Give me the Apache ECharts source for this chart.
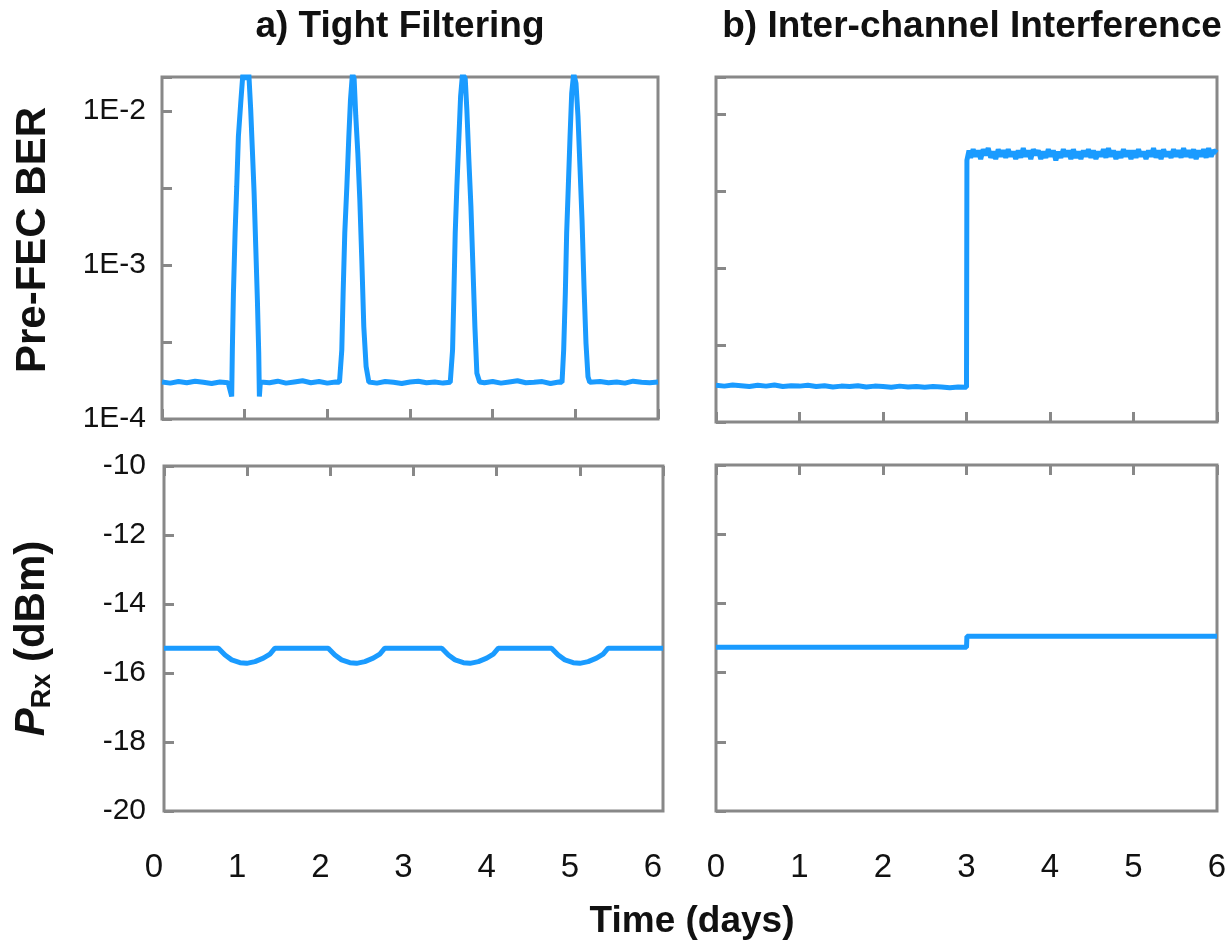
<!DOCTYPE html>
<html>
<head>
<meta charset="utf-8">
<script src="https://cdn.jsdelivr.net/npm/echarts@6/dist/echarts.min.js"></script>
<style>
  html, body { margin: 0; padding: 0; background: #fff; }
  #chart { width: 1232px; height: 950px; }
</style>
</head>
<body>
<div id="chart"></div>
<script>
// a) tight filtering: [day, pre-FEC BER]
const tfBer = [
  [0, 1.74e-4], [0.1, 1.71e-4], [0.2, 1.75e-4], [0.3, 1.72e-4], [0.4, 1.76e-4], [0.5, 1.73e-4],
  [0.6, 1.70e-4], [0.7, 1.74e-4], [0.8, 1.72e-4], [0.823, 1.75e-4],
  [0.843, 1.40e-4], [0.851, 2.81e-4], [0.864, 6.55e-4], [0.884, 1.61e-3], [0.904, 3.22e-3],
  [0.924, 6.81e-3], [0.952, 1.12e-2], [0.977, 1.70e-2], [1.0, 1.85e-2], [1.025, 1.60e-2],
  [1.05, 1.75e-2], [1.073, 1.02e-2], [1.093, 5.6e-3], [1.114, 2.95e-3], [1.134, 1.32e-3],
  [1.154, 5.9e-4], [1.17, 2.7e-4], [1.178, 1.40e-4], [1.19, 1.74e-4],
  [1.3, 1.72e-4], [1.4, 1.76e-4], [1.5, 1.71e-4], [1.6, 1.74e-4], [1.7, 1.77e-4], [1.8, 1.72e-4],
  [1.9, 1.75e-4], [2.0, 1.71e-4], [2.1, 1.74e-4], [2.147, 1.73e-4],
  [2.175, 2.81e-4], [2.191, 6.55e-4], [2.211, 1.61e-3], [2.236, 3.22e-3], [2.26, 6.81e-3],
  [2.28, 1.18e-2], [2.304, 1.75e-2], [2.324, 1.62e-2], [2.344, 9.3e-3], [2.369, 5.31e-3],
  [2.393, 2.64e-3], [2.417, 1.08e-3], [2.441, 3.98e-4], [2.469, 2.19e-4], [2.502, 1.74e-4],
  [2.6, 1.71e-4], [2.7, 1.75e-4], [2.8, 1.73e-4], [2.9, 1.70e-4], [3.0, 1.74e-4], [3.1, 1.76e-4],
  [3.2, 1.72e-4], [3.3, 1.74e-4], [3.4, 1.71e-4], [3.487, 1.73e-4],
  [3.515, 2.81e-4], [3.531, 6.55e-4], [3.547, 1.61e-3], [3.567, 3.22e-3], [3.592, 6.81e-3],
  [3.612, 1.24e-2], [3.636, 1.75e-2], [3.668, 1.62e-2], [3.688, 1.01e-2], [3.712, 4.81e-3],
  [3.737, 2.39e-3], [3.761, 9.75e-4], [3.785, 3.98e-4], [3.809, 1.98e-4], [3.842, 1.74e-4],
  [3.9, 1.72e-4], [4.0, 1.75e-4], [4.1, 1.71e-4], [4.2, 1.74e-4], [4.3, 1.77e-4], [4.4, 1.72e-4],
  [4.5, 1.73e-4], [4.6, 1.75e-4], [4.7, 1.70e-4], [4.8, 1.74e-4], [4.839, 1.73e-4],
  [4.859, 2.81e-4], [4.879, 6.55e-4], [4.895, 1.61e-3], [4.915, 3.22e-3], [4.936, 6.81e-3],
  [4.956, 1.30e-2], [4.98, 1.75e-2], [5.008, 1.51e-2], [5.032, 9.2e-3], [5.056, 4.35e-3],
  [5.081, 1.96e-3], [5.105, 7.2e-4], [5.129, 3.1e-4], [5.153, 1.88e-4], [5.174, 1.73e-4],
  [5.3, 1.75e-4], [5.4, 1.72e-4], [5.5, 1.74e-4], [5.6, 1.71e-4], [5.7, 1.76e-4], [5.8, 1.73e-4],
  [5.9, 1.72e-4], [6.0, 1.74e-4]
];

// b) inter-channel interference: [day, pre-FEC BER]
const iciBer = [
  [0, 1.73e-4], [0.1, 1.71e-4], [0.2, 1.74e-4], [0.3, 1.72e-4], [0.4, 1.70e-4], [0.5, 1.73e-4],
  [0.6, 1.71e-4], [0.7, 1.74e-4], [0.8, 1.70e-4], [0.9, 1.72e-4], [1.0, 1.71e-4], [1.1, 1.73e-4],
  [1.2, 1.70e-4], [1.3, 1.72e-4], [1.4, 1.69e-4], [1.5, 1.71e-4], [1.6, 1.70e-4], [1.7, 1.72e-4],
  [1.8, 1.69e-4], [1.9, 1.71e-4], [2.0, 1.70e-4], [2.1, 1.68e-4], [2.2, 1.71e-4], [2.3, 1.69e-4],
  [2.4, 1.70e-4], [2.5, 1.68e-4], [2.6, 1.70e-4], [2.7, 1.69e-4], [2.8, 1.67e-4], [2.9, 1.69e-4],
  [3.0, 1.68e-4],
  [3.005, 5.0e-3], [3.03, 5.8e-3],
  [3.05, 5.2e-3], [3.08, 5.9e-3], [3.11, 5.3e-3], [3.14, 5.8e-3], [3.17, 5.1e-3], [3.2, 5.9e-3],
  [3.23, 5.4e-3], [3.26, 6.0e-3], [3.29, 5.2e-3], [3.32, 5.7e-3], [3.35, 5.1e-3], [3.38, 5.9e-3],
  [3.41, 5.3e-3], [3.44, 5.8e-3], [3.47, 5.2e-3], [3.5, 5.9e-3], [3.53, 5.3e-3], [3.56, 5.7e-3],
  [3.59, 5.1e-3], [3.62, 5.8e-3], [3.65, 5.2e-3], [3.68, 6.0e-3], [3.71, 5.3e-3], [3.74, 5.8e-3],
  [3.77, 5.1e-3], [3.8, 5.9e-3], [3.83, 5.4e-3], [3.86, 5.8e-3], [3.89, 5.1e-3], [3.92, 5.7e-3],
  [3.95, 5.2e-3], [3.98, 5.9e-3], [4.01, 5.3e-3], [4.04, 5.8e-3], [4.07, 5.0e-3], [4.1, 5.7e-3],
  [4.13, 5.2e-3], [4.16, 5.9e-3], [4.19, 5.3e-3], [4.22, 5.8e-3], [4.25, 5.1e-3], [4.28, 5.9e-3],
  [4.31, 5.2e-3], [4.34, 5.7e-3], [4.37, 5.1e-3], [4.4, 5.8e-3], [4.43, 5.3e-3], [4.46, 5.9e-3],
  [4.49, 5.2e-3], [4.52, 5.8e-3], [4.55, 5.1e-3], [4.58, 5.7e-3], [4.61, 5.3e-3], [4.64, 5.9e-3],
  [4.67, 5.2e-3], [4.7, 6.0e-3], [4.73, 5.3e-3], [4.76, 5.8e-3], [4.79, 5.1e-3], [4.82, 5.7e-3],
  [4.85, 5.2e-3], [4.88, 5.9e-3], [4.91, 5.3e-3], [4.94, 5.8e-3], [4.97, 5.1e-3], [5.0, 5.8e-3],
  [5.03, 5.2e-3], [5.06, 5.9e-3], [5.09, 5.3e-3], [5.12, 5.7e-3], [5.15, 5.1e-3], [5.18, 5.8e-3],
  [5.21, 5.3e-3], [5.24, 6.0e-3], [5.27, 5.2e-3], [5.3, 5.8e-3], [5.33, 5.1e-3], [5.36, 5.9e-3],
  [5.39, 5.3e-3], [5.42, 5.7e-3], [5.45, 5.2e-3], [5.48, 5.9e-3], [5.51, 5.3e-3], [5.54, 5.8e-3],
  [5.57, 5.2e-3], [5.6, 6.0e-3], [5.63, 5.3e-3], [5.66, 5.8e-3], [5.69, 5.2e-3], [5.72, 5.9e-3],
  [5.75, 5.1e-3], [5.78, 5.8e-3], [5.81, 5.3e-3], [5.84, 5.9e-3], [5.87, 5.2e-3], [5.9, 6.0e-3],
  [5.93, 5.3e-3], [5.96, 5.8e-3], [6.0, 5.6e-3]
];

// received power, dBm
const tfPower = [
  [0, -15.28], [0.654, -15.28], [0.734, -15.48], [0.814, -15.62], [0.914, -15.70], [0.994, -15.72],
  [1.094, -15.67], [1.194, -15.57], [1.274, -15.45], [1.334, -15.28],
  [1.975, -15.28], [2.055, -15.48], [2.135, -15.62], [2.235, -15.70], [2.315, -15.72],
  [2.415, -15.67], [2.515, -15.57], [2.595, -15.45], [2.655, -15.28],
  [3.34, -15.28], [3.42, -15.48], [3.5, -15.62], [3.6, -15.70], [3.68, -15.72],
  [3.78, -15.67], [3.88, -15.57], [3.96, -15.45], [4.02, -15.28],
  [4.66, -15.28], [4.74, -15.48], [4.82, -15.62], [4.92, -15.70], [5.0, -15.72],
  [5.1, -15.67], [5.2, -15.57], [5.28, -15.45], [5.34, -15.28], [6.0, -15.28]
];
const iciPower = [[0, -15.27], [3.0, -15.27], [3.005, -14.95], [6.0, -14.95]];

const berDecadeRange = [-4, -1.78];   // log10(BER)
const powerRange = [-20, -10];
const dayRange = [0, 6];

const chart = echarts.init(document.getElementById("chart"));

const gray = "#888888";
const blue = "#1a9bff";
const font = "Liberation Sans, Arial, sans-serif";

const tick = { show: true, inside: true, length: 10, lineStyle: { color: gray, width: 3 } };
const noTick = { show: false };
const noLine = { show: false };

const xBase = (gridIndex) => ({
  type: "value",
  gridIndex,
  min: dayRange[0],
  max: dayRange[1],
  interval: 1,
  axisLine: noLine,
  splitLine: { show: false },
});

const xLabel = (pad) => ({
  show: true,
  margin: 40,
  color: "#111",
  fontSize: 32,
  formatter: (v) => "{d|" + v + "}",
  rich: { d: { fontSize: 33, fontFamily: "Liberation Sans Narrow, Liberation Sans, Arial", color: "#111", padding: [0, pad, 0, 0] } },
});

const berLabel = (v) => (Math.abs(v - Math.round(v)) < 1e-6 ? "1E" + Math.round(v) : "");

const option = {
  animation: false,
  grid: [
    { left: 162, top: 77, width: 496, height: 342 },
    { left: 716, top: 77, width: 501, height: 345 },
    { left: 164, top: 466, width: 499, height: 345 },
    { left: 716, top: 465, width: 501, height: 346 },
  ].map((g) => ({ ...g, show: true, borderColor: gray, borderWidth: 3, backgroundColor: "transparent" })),
  xAxis: [
    { ...xBase(0), axisTick: tick, axisLabel: { show: false } },
    { ...xBase(1), axisTick: tick, axisLabel: { show: false } },
    { ...xBase(2), position: "bottom", axisTick: noTick, axisLabel: xLabel(20) },
    { ...xBase(3), position: "bottom", axisTick: noTick, axisLabel: xLabel(0) },
    { ...xBase(2), position: "top", axisTick: tick, axisLabel: { show: false } },
    { ...xBase(3), position: "top", axisTick: tick, axisLabel: { show: false } },
  ],
  yAxis: [
    {
      type: "value", gridIndex: 0, min: berDecadeRange[0], max: berDecadeRange[1], interval: 0.5,
      axisLine: noLine, splitLine: { show: false }, axisTick: tick,
      axisLabel: { formatter: berLabel, fontSize: 30, fontFamily: font, color: "#111", margin: 16 },
      name: "Pre-FEC BER", nameLocation: "middle", nameRotate: 90, nameGap: 108,
      nameTextStyle: { fontSize: 42, fontWeight: "bold", fontFamily: font, color: "#111", padding: [0, 0, 0, 16] },
    },
    {
      type: "value", gridIndex: 1, min: berDecadeRange[0], max: -4 + 345 / 154, interval: 0.5,
      axisLine: noLine, splitLine: { show: false }, axisTick: tick, axisLabel: { show: false },
    },
    {
      type: "value", gridIndex: 2, min: powerRange[0], max: powerRange[1], interval: 2,
      axisLine: noLine, splitLine: { show: false }, axisTick: tick,
      axisLabel: { fontSize: 30, fontFamily: font, color: "#111", margin: 18 },
      name: "{p|P}{s|Rx}{n| (dBm)}", nameLocation: "middle", nameRotate: 90, nameGap: 108,
      nameTextStyle: {
        rich: {
          p: { fontSize: 42, fontWeight: "bold", fontStyle: "italic", fontFamily: font, color: "#111" },
          s: { fontSize: 27, fontWeight: "bold", fontFamily: font, color: "#111", padding: [20, 0, 0, 0] },
          n: { fontSize: 42, fontWeight: "bold", fontFamily: font, color: "#111" },
        },
      },
    },
    {
      type: "value", gridIndex: 3, min: powerRange[0], max: powerRange[1], interval: 2,
      axisLine: noLine, splitLine: { show: false }, axisTick: tick, axisLabel: { show: false },
    },
  ],
  series: [
    { data: tfBer.map(([d, b]) => [d, Math.log10(b)]), xAxisIndex: 0, yAxisIndex: 0 },
    { data: iciBer.map(([d, b]) => [d, Math.log10(b)]), xAxisIndex: 1, yAxisIndex: 1 },
    { data: tfPower, xAxisIndex: 2, yAxisIndex: 2 },
    { data: iciPower, xAxisIndex: 3, yAxisIndex: 3 },
  ].map((s) => ({
    ...s,
    type: "line",
    showSymbol: false,
    clip: true,
    lineStyle: { color: blue, width: 5 },
  })),
  graphic: [
    { type: "text", x: 400, y: 27, style: { text: "a) Tight Filtering", font: "bold 37px " + font, fill: "#111", textAlign: "center", textVerticalAlign: "middle" } },
    { type: "text", x: 972, y: 27, style: { text: "b) Inter-channel Interference", font: "bold 37px " + font, fill: "#111", textAlign: "center", textVerticalAlign: "middle" } },
    { type: "text", x: 692, y: 922, style: { text: "Time (days)", font: "bold 37px " + font, fill: "#111", textAlign: "center", textVerticalAlign: "middle" } },
  ],
};

chart.setOption(option);
</script>
</body>
</html>
